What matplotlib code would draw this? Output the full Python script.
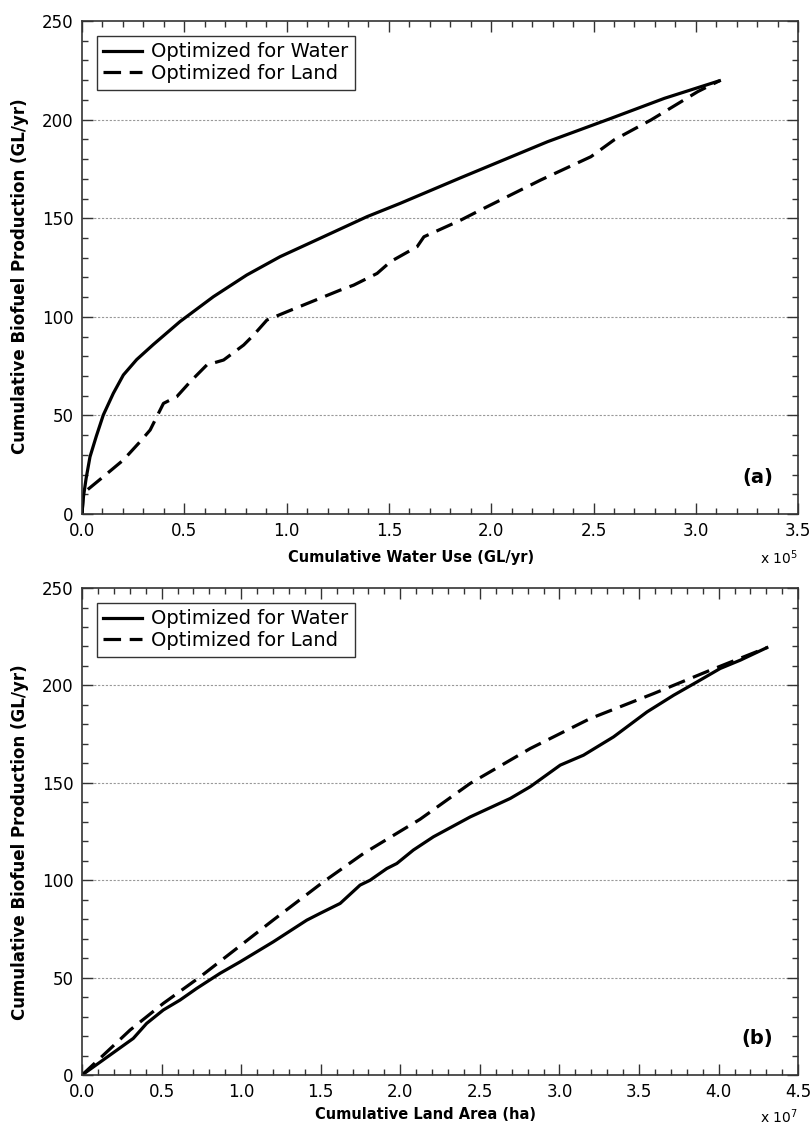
import matplotlib
matplotlib.use('Agg')
import matplotlib.pyplot as plt
from matplotlib.ticker import MultipleLocator, FormatStrFormatter

# panel (a): cumulative water use (x 1e5 GL/yr) vs biofuel (GL/yr)
water_opt_x = [0, 0.006, 0.02, 0.039, 0.07, 0.104, 0.153, 0.202, 0.267, 0.349, 0.479,
               0.642, 0.805, 0.968, 1.163, 1.393, 1.554, 1.85, 2.275, 2.584, 2.846, 3.115]
water_opt_y = [0, 8, 18, 29, 39.5, 50.2, 61.2, 70.5, 78.3, 86.0, 97.6,
               110.2, 121.2, 130.5, 139.8, 150.8, 157.5, 170.5, 188.8, 200.6, 210.8, 219.7]
land_opt_x = [0, 0.005, 0.015, 0.104, 0.202, 0.284, 0.333, 0.398, 0.463, 0.529, 0.610,
              0.692, 0.79, 0.839, 0.904, 1.002, 1.263, 1.328, 1.442, 1.508, 1.638, 1.671,
              1.85, 1.948, 2.242, 2.487, 2.60, 2.78, 3.009, 3.115]
land_opt_y = [0, 8, 11.3, 18.9, 27.4, 36.7, 42.6, 56.1, 59.5, 67.1, 75.6,
              78.1, 85.7, 90.8, 98.4, 102.6, 113.6, 116.1, 122, 128, 135.6, 140.6,
              149, 154.2, 169.4, 181.2, 189.7, 199.8, 214.2, 219.7]

# panel (b): cumulative land area (x 1e7 ha) vs biofuel (GL/yr)
area_water_x = [0, 0.322, 0.406, 0.511, 0.616, 0.721, 0.867, 0.993, 1.202, 1.412, 1.496,
                1.622, 1.747, 1.81, 1.915, 1.978, 2.082, 2.208, 2.439, 2.691, 2.816, 3.005,
                3.151, 3.34, 3.55, 3.718, 3.864, 4.01, 4.137, 4.303]
area_water_y = [0, 18.8, 26.5, 33.4, 38.5, 44.5, 52.2, 58.1, 68.4, 79.5, 83,
                88.1, 97.5, 100, 106, 108.6, 115.5, 122.3, 132.5, 142, 148, 159.1,
                164.2, 173.6, 186.4, 195, 201.8, 208.7, 213, 219.4]
area_land_x = [0, 0.113, 0.302, 0.511, 0.742, 0.972, 1.202, 1.517, 1.768, 2.124, 2.439,
               2.816, 3.193, 3.591, 3.947, 4.303]
area_land_y = [0, 8.6, 23.1, 36.8, 50.4, 65, 79.6, 99.2, 113.7, 131.3, 149.7,
               167.6, 183, 195.8, 207.8, 219.4]

labels = ['Optimized for Water', 'Optimized for Land']
spine_col = '#333333'
dash = (0, (5.5, 2.7))

fig = plt.figure(figsize=(8.12, 11.25), dpi=100)
ax1 = fig.add_axes([0.101, 0.5431, 0.882, 0.4382])
ax2 = fig.add_axes([0.101, 0.0444, 0.882, 0.4329])


def style_axis(ax, xmax):
    ax.set_xlim(0, xmax)
    ax.set_ylim(0, 250)
    ax.xaxis.set_major_locator(MultipleLocator(0.5))
    ax.xaxis.set_minor_locator(MultipleLocator(0.1))
    ax.xaxis.set_major_formatter(FormatStrFormatter('%.1f'))
    ax.yaxis.set_major_locator(MultipleLocator(50))
    ax.yaxis.set_minor_locator(MultipleLocator(10))
    ax.tick_params(which='both', direction='in', top=True, right=True,
                   color=spine_col, labelsize=12, pad=6)
    ax.tick_params(which='major', length=8, width=1)
    ax.tick_params(which='minor', length=4, width=1)
    for s in ax.spines.values():
        s.set_color(spine_col)
        s.set_linewidth(1.2)
    for yv in [50, 100, 150, 200]:
        ax.axhline(yv, color='#999999', linestyle=(0, (2, 1.5)), linewidth=0.8, zorder=0)
    ax.set_ylabel('Cumulative Biofuel Production (GL/yr)', fontsize=12, fontweight='bold')


def add_legend(ax):
    leg = ax.legend(loc='upper left', fontsize=14, frameon=True, fancybox=False,
                    edgecolor='black', borderaxespad=0.75, handlelength=2.0,
                    borderpad=0.35, labelspacing=0.12, handletextpad=0.45)
    leg.get_frame().set_linewidth(1.0)


# top panel
ax1.plot(water_opt_x, water_opt_y, color='black', linewidth=2.3, label=labels[0])
ax1.plot(land_opt_x, land_opt_y, color='black', linewidth=2.3,
         linestyle=dash, label=labels[1])
style_axis(ax1, 3.5)
ax1.set_xlabel('Cumulative Water Use (GL/yr)', fontsize=10.5, fontweight='bold')
ax1.xaxis.set_label_coords(0.46, -0.072)
ax1.yaxis.set_label_coords(-0.074, 0.483)
ax1.text(0.965, 0.075, '(a)', transform=ax1.transAxes, fontsize=14,
         fontweight='bold', ha='right', va='center')
add_legend(ax1)
fig.text(0.982, 0.5045, 'x 10$^5$', fontsize=10, ha='right', va='center')

# bottom panel
ax2.plot(area_water_x, area_water_y, color='black', linewidth=2.3, label=labels[0])
ax2.plot(area_land_x, area_land_y, color='black', linewidth=2.3,
         linestyle=dash, label=labels[1])
style_axis(ax2, 4.5)
ax2.set_xlabel('Cumulative Land Area (ha)', fontsize=10.5, fontweight='bold')
ax2.xaxis.set_label_coords(0.48, -0.066)
ax2.yaxis.set_label_coords(-0.074, 0.478)
ax2.text(0.965, 0.075, '(b)', transform=ax2.transAxes, fontsize=14,
         fontweight='bold', ha='right', va='center')
add_legend(ax2)
fig.text(0.982, 0.0075, 'x 10$^7$', fontsize=10, ha='right', va='center')

fig.savefig('out.png', dpi=100)
